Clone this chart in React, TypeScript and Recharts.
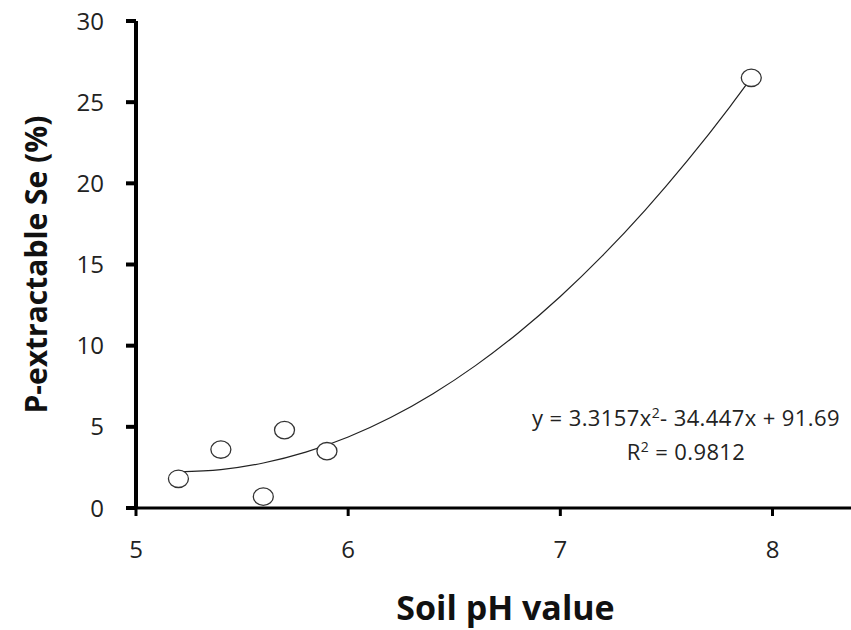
import React from "react";
import { ComposedChart, Scatter, Line, XAxis, YAxis, Label } from "recharts";

// observed samples: soil pH vs P-extractable Se (%)
const phValues = [5.2, 5.4, 5.6, 5.7, 5.9, 7.9];
const seValues = [1.8, 3.6, 0.7, 4.8, 3.5, 26.5];

// polynomial trendline, read at steps along the curve (y = 3.3157x² - 34.447x + 91.69)
const trendPh = [5.2, 5.4, 5.6, 5.8, 6.0, 6.2, 6.4, 6.6, 6.8, 7.0, 7.2, 7.4, 7.6, 7.8, 7.9];
const trendSe = [2.22, 2.36, 2.77, 3.44, 4.37, 5.57, 7.04, 8.77, 10.77, 13.03, 15.56, 18.35, 21.41, 24.73, 26.49];

const xTicks = [5, 6, 7, 8];
const yTicks = [0, 5, 10, 15, 20, 25, 30];

const points = phValues.map((x, i) => ({ x, y: seValues[i] }));
const trend = trendPh.map((x, i) => ({ x, fit: trendSe[i] }));

const FONT = "'Open Sans', 'DejaVu Sans', sans-serif";

const Ring = (props: any) => (
  <ellipse cx={props.cx} cy={props.cy} rx={10} ry={8.7} fill="#fff" stroke="#333" strokeWidth={1.3} />
);

export default function App() {
  return (
    <div style={{ position: "absolute", left: 0, top: 0, width: 851, height: 630, background: "#fff", fontFamily: FONT }}>
      <ComposedChart width={851} height={630} margin={{ top: 21, right: 0, left: 36, bottom: 5 }}>
        <XAxis
          type="number"
          dataKey="x"
          domain={[5, 8.37]}
          ticks={xTicks}
          allowDataOverflow
          height={117}
          stroke="#000"
          strokeWidth={3}
          tickSize={8}
          tickMargin={25}
          tick={{ fill: "#222", fontSize: 24, fontFamily: FONT }}
        >
          <Label
            value="Soil pH value"
            position="insideBottom"
            offset={5}
            dx={12}
            style={{ fontSize: 34, fontWeight: 700, fill: "#111", fontFamily: FONT }}
          />
        </XAxis>
        <YAxis
          type="number"
          domain={[0, 30]}
          ticks={yTicks}
          width={100}
          stroke="#000"
          strokeWidth={4}
          tickSize={10}
          tickMargin={22}
          tick={{ fill: "#222", fontSize: 24, fontFamily: FONT }}
        >
          <Label
            value="P-extractable Se (%)"
            angle={-90}
            position="insideLeft"
            offset={0}
            style={{ fontSize: 30, fontWeight: 700, fill: "#111", fontFamily: FONT, textAnchor: "middle" }}
          />
        </YAxis>
        <Line
          data={trend}
          dataKey="fit"
          type="monotone"
          stroke="#222"
          strokeWidth={1.2}
          dot={false}
          isAnimationActive={false}
        />
        <Scatter data={points} dataKey="y" shape={Ring} isAnimationActive={false} />
      </ComposedChart>
      <div
        style={{
          position: "absolute",
          left: 490,
          top: 398,
          width: 392,
          textAlign: "center",
          fontSize: 22,
          letterSpacing: 0.4,
          lineHeight: "29px",
          color: "#222",
        }}
      >
        <div>y = 3.3157x<sup style={{ fontSize: 14 }}>2</sup>- 34.447x + 91.69</div>
        <div>R<sup style={{ fontSize: 14 }}>2</sup> = 0.9812</div>
      </div>
    </div>
  );
}
